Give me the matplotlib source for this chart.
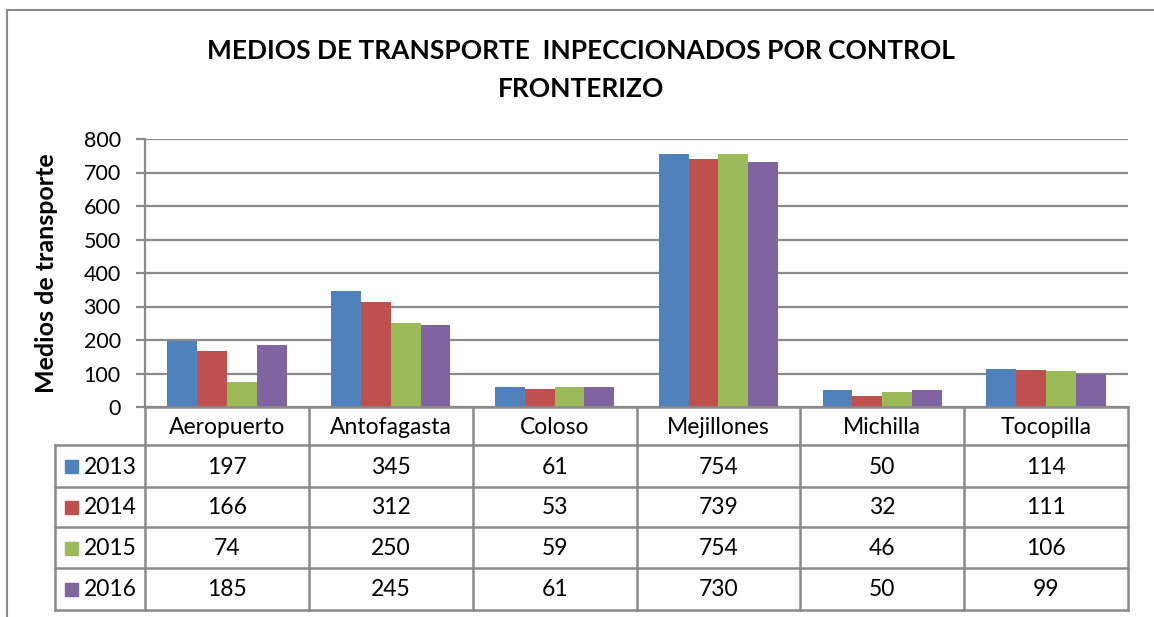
import matplotlib
matplotlib.use("Agg")
import matplotlib.pyplot as plt
import numpy as np

categories = ["Aeropuerto", "Antofagasta", "Coloso", "Mejillones", "Michilla", "Tocopilla"]
years = ["2013", "2014", "2015", "2016"]
v2013 = [197, 345, 61, 754, 50, 114]
v2014 = [166, 312, 53, 739, 32, 111]
v2015 = [74, 250, 59, 754, 46, 106]
v2016 = [185, 245, 61, 730, 50, 99]
series = [v2013, v2014, v2015, v2016]
colors = ["#4F81BD", "#C0504D", "#9BBB59", "#8064A2"]
yticks = [0, 100, 200, 300, 400, 500, 600, 700, 800]
title_lines = ["MEDIOS DE TRANSPORTE  INPECCIONADOS POR CONTROL", "FRONTERIZO"]
ylabel = "Medios de transporte"

FONT = ["Lato", "DejaVu Sans"]
plt.rcParams['font.family'] = FONT
GRID = "#8a8a8a"

W, H = 1154, 617
fig = plt.figure(figsize=(W / 100, H / 100), dpi=100)

# pixel layout
L, R, T, B = 145, 1128, 139, 407
ax = fig.add_axes([L / W, 1 - B / H, (R - L) / W, (B - T) / H])

n = len(categories)
x = np.arange(n)
bw = 0.182
for i, (vals, c) in enumerate(zip(series, colors)):
    ax.bar(x + (i - 1.5) * bw, vals, width=bw, color=c, zorder=3)

ax.set_xlim(-0.5, n - 0.5)
ax.set_ylim(0, 800)
ax.set_yticks(yticks)
ax.set_xticks([])
ax.grid(axis="y", color=GRID, linewidth=1.6, zorder=0)
for s in ["top", "right", "bottom"]:
    ax.spines[s].set_visible(False)
ax.spines["left"].set_color(GRID)
ax.spines["left"].set_linewidth(1.6)
ax.tick_params(axis="y", direction="out", length=6.5, width=1.6, color=GRID,
               labelsize=15.5, pad=11)
ax.set_ylabel(ylabel, fontsize=18, fontweight="bold")
ax.yaxis.set_label_coords((58 - L) / (R - L), 0.5)

# overlay axes in pixel coords for title, table and border
ov = fig.add_axes([0, 0, 1, 1], zorder=5)
ov.set_xlim(0, W)
ov.set_ylim(H, 0)
ov.axis("off")
ov.patch.set_alpha(0)

for k, line in enumerate(title_lines):
    ov.text(581, 51 + k * 38, line, ha="center", va="center", fontsize=19,
            fontweight="bold")

# outer border
ov.plot([7, W], [10, 10], color=GRID, lw=1.5)
ov.plot([7, 7], [10, H], color=GRID, lw=1.5)

# table
colw = (R - L) / n
row_top = [B, 445, 487, 527, 568, 610]
tl = 55
lw = 1.8
ov.plot([L, R], [B, B], color=GRID, lw=lw)
for yy in row_top[1:]:
    ov.plot([tl, R], [yy, yy], color=GRID, lw=lw)
ov.plot([tl, tl], [row_top[1], row_top[-1]], color=GRID, lw=lw)
for j in range(n + 1):
    ov.plot([L + j * colw, L + j * colw], [B, row_top[-1]], color=GRID, lw=lw)

for j, cat in enumerate(categories):
    ov.text(L + (j + 0.5) * colw, (row_top[0] + row_top[1]) / 2 + 1, cat,
            ha="center", va="center", fontsize=16.5)
for i, (yr, vals, c) in enumerate(zip(years, series, colors)):
    yc = (row_top[i + 1] + row_top[i + 2]) / 2 + 1
    ov.add_patch(plt.Rectangle((65, yc - 7), 13, 13, color=c))
    ov.text(84, yc, yr, ha="left", va="center", fontsize=16.5)
    for j, v in enumerate(vals):
        ov.text(L + (j + 0.5) * colw, yc, str(v), ha="center", va="center",
                fontsize=16.5)

fig.savefig("out.png", dpi=100)
